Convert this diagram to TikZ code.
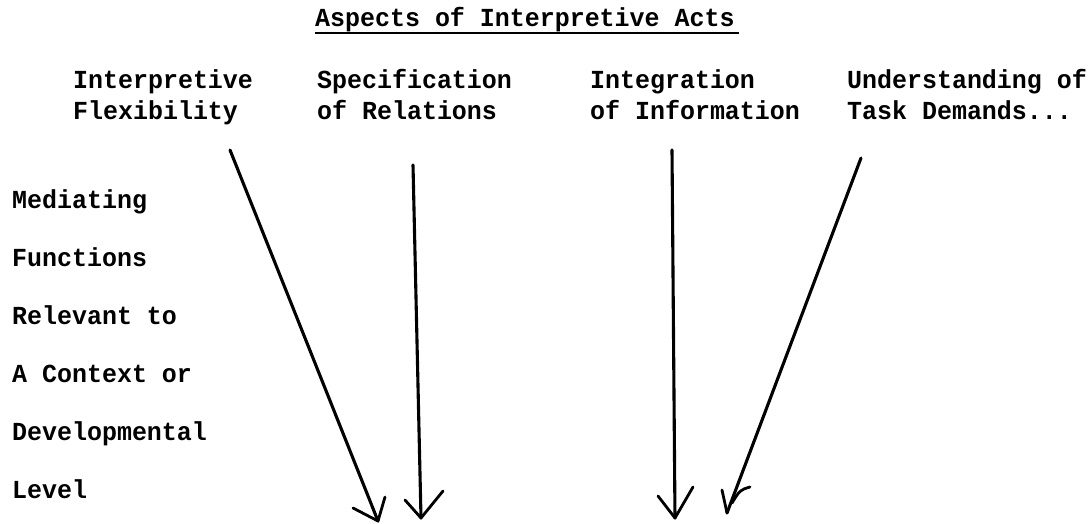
\documentclass[tikz,border=0pt]{standalone}
\usepackage{fontspec}
\setmonofont{Liberation Mono}[FakeStretch=0.96]
\usetikzlibrary{calc}
\begin{document}
\begin{tikzpicture}[x=1pt,y=-1pt,
  txt/.style={font=\ttfamily\bfseries\fontsize{26}{30}\selectfont, inner sep=0pt, anchor=base west},
  stroke/.style={line width=3.1pt, line cap=round, line join=round},
  barb/.style={line width=2.8pt, line cap=round, line join=round}]
\useasboundingbox (0,0) rectangle (1090,524);
\fill[white] (0,0) rectangle (1090,524);

% title
\node[txt] (title) at (315,27) {Aspects of Interpretive Acts};
\draw[line width=2.6pt] ($(title.base west)+(0,6)$) -- ($(title.base east)+(4,6)$);

% column headings
\node[txt] (h1a) at (73,89)  {Interpretive};
\node[txt] (h1b) at (73,120) {Flexibility};
\node[txt] (h2a) at (317,89)  {Specification};
\node[txt] (h2b) at (317,120) {of Relations};
\node[txt] (h3a) at (590,89)  {Integration};
\node[txt] (h3b) at (590,120) {of Information};
\node[txt] (h4a) at (847,89)  {Understanding of};
\node[txt] (h4b) at (847,120) {Task Demands...};

% left labels
\node[txt] (l1) at (12,208) {Mediating};
\node[txt] (l2) at (12,266) {Functions};
\node[txt] (l3) at (12,324) {Relevant to};
\node[txt] (l4) at (12,382) {A Context or};
\node[txt] (l5) at (12,440) {Developmental};
\node[txt] (l6) at (12,498) {Level};

% arrow end points
\coordinate (s1) at (230,150); \coordinate (t1) at (378,521);
\coordinate (s2) at (413,165); \coordinate (t2) at (421,518);
\coordinate (s3) at (672,150); \coordinate (t3) at (675,518);
\coordinate (s4) at (861,158); \coordinate (t4) at (727,513);
% barb ends
\coordinate (b1l) at (353,508); \coordinate (b1r) at (385,497);
\coordinate (b2l) at (405,500); \coordinate (b2r) at (443,491);
\coordinate (b3l) at (658,496); \coordinate (b3r) at (693,487);
\coordinate (b4l) at (722,490); \coordinate (b4r) at (750,487);
\coordinate (b4m) at (732,503);

% shafts
\draw[stroke] (s1) -- (t1);
\draw[stroke] (s2) -- (t2);
\draw[stroke] (s3) -- (t3);
\draw[stroke] (s4) -- (t4);

% hand-drawn heads
\draw[barb] (b1l) -- (t1) -- (b1r);
\draw[barb] (b2l) -- (t2) -- (b2r);
\draw[barb] (b3l) -- (t3) -- (b3r);
\draw[barb] (b4l) -- (t4);
\draw[barb] (b4r) .. controls (740,490) .. (b4m);
\end{tikzpicture}
\end{document}
